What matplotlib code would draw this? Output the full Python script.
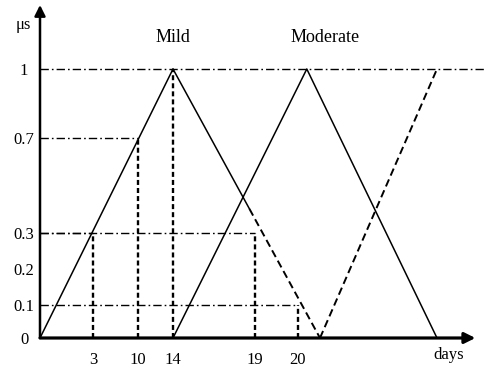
import numpy as np
import matplotlib
matplotlib.use("Agg")
import matplotlib.pyplot as plt

# ---------------- data ----------------
mild_days = [0, 14, 21]
mild_mu = [0, 1, 0]
moderate_days = [14, 20.4, 28]
moderate_mu = [0, 1, 0]
severe_days = [21, 28]
severe_mu = [0, 1]
guide_days = [3, 10, 14, 19, 20]          # dashed vertical guides / x tick positions
guide_mu = [0.3, 0.7, 1, 0.3, 0.1]        # membership reached at each guide
xtick_labels = ["3", "10", "14", "19", "20"]
ytick_values = [0, 0.1, 0.2, 0.3, 0.7, 1]
ytick_labels = ["0", "0.1", "0.2", "0.3", "0.7", "1"]
axis_end_days = 32
mild_solid_until = 0.48                   # falling edge of Mild turns dashed below this

# ---------------- layout (schematic, hand-drawn scales) ----------------
W, H, DPI = 485, 374, 100
XK_DAYS = [-4.5, 0, 3, 10, 14, 19, 20, 21, 28, 33]
XK_PX = [0, 40, 93, 138, 173, 255, 298, 320, 437, 485]
YK_MU = [-0.2, 0, 0.1, 0.2, 0.3, 0.7, 1, 1.25]
YK_PX = [0, 36, 69, 105, 141, 236, 305, 374]

plt.rcParams["font.family"] = ["Liberation Serif", "DejaVu Serif"]
plt.rcParams["font.size"] = 12
plt.rcParams["lines.scale_dashes"] = False

fig = plt.figure(figsize=(W / DPI, H / DPI), dpi=DPI)
ax = fig.add_axes([0, 0, 1, 1])
ax.set_xscale("function", functions=(lambda d: np.interp(d, XK_DAYS, XK_PX),
                                     lambda p: np.interp(p, XK_PX, XK_DAYS)))
ax.set_yscale("function", functions=(lambda m: np.interp(m, YK_MU, YK_PX),
                                     lambda p: np.interp(p, YK_PX, YK_MU)))
ax.set_xlim(XK_DAYS[0], XK_DAYS[-1])
ax.set_ylim(YK_MU[0], YK_MU[-1])

SOLID = dict(color="black", lw=1.1, solid_capstyle="round")
DASH_V = dict(color="black", lw=1.7, dashes=(3.6, 2.2))
DASH_M = dict(color="black", lw=1.4, dashes=(5.5, 3.0))
DASHDOT = dict(color="black", lw=1.0, dashes=(6.0, 2.2, 1.2, 2.2))

# horizontal dash-dot guides
for d, m in zip(guide_days, guide_mu):
    x_end = XK_DAYS[-1] if m == 1 else d
    ax.plot([0, x_end], [m, m], **DASHDOT)
# vertical dashed guides
for d, m in zip(guide_days, guide_mu):
    ax.plot([d, d], [0, m], **DASH_V)

# Mild: rising edge solid, falling edge solid then dashed
ax.plot(mild_days[:2], mild_mu[:2], **SOLID)
p0 = ax.transData.transform((mild_days[1], mild_mu[1]))
p1 = ax.transData.transform((mild_days[2], mild_mu[2]))
split = ax.transData.inverted().transform(p0 + (1 - mild_solid_until) * (p1 - p0))
ax.plot([mild_days[1], split[0]], [mild_mu[1], split[1]], **SOLID)
ax.plot([split[0], mild_days[2]], [split[1], mild_mu[2]], **DASH_M)

# Moderate: solid triangle
ax.plot(moderate_days, moderate_mu, **SOLID)
# Severe rising edge: dashed
ax.plot(severe_days, severe_mu, **DASH_M)

# axes with arrows
for s in ax.spines.values():
    s.set_visible(False)
ax.spines["bottom"].set_position(("data", 0))
ax.spines["left"].set_position(("data", 0))
ax.annotate("", xy=(axis_end_days, 0), xytext=(0, 0),
            arrowprops=dict(arrowstyle="-|>", lw=2.3, color="black",
                            mutation_scale=16, shrinkA=0, shrinkB=0))
ax.annotate("", xy=(0, 1.232), xytext=(0, 0),
            arrowprops=dict(arrowstyle="-|>", lw=1.8, color="black",
                            mutation_scale=16, shrinkA=0, shrinkB=0))

ax.set_xticks(guide_days, xtick_labels)
ax.set_yticks(ytick_values, ytick_labels)
ax.tick_params(axis="x", length=0, pad=10)
ax.tick_params(axis="y", length=0, pad=11.5)
for lbl in ax.get_yticklabels():
    lbl.set_horizontalalignment("center")
ax.minorticks_off()

ax.annotate("days", xy=(axis_end_days, 0), xytext=(-27, -17),
            textcoords="offset pixels", ha="center", va="center")
ax.annotate("μs", xy=(0, 1.16), xytext=(-17, 0),
            textcoords="offset pixels", ha="center", va="center", fontsize=12)
ax.annotate("Mild", xy=(mild_days[1], 1), xytext=(0, 32),
            textcoords="offset pixels", ha="center", va="center", fontsize=13)
ax.annotate("Moderate", xy=(moderate_days[1], 1), xytext=(18, 32),
            textcoords="offset pixels", ha="center", va="center", fontsize=13)

fig.savefig("out.png", dpi=DPI)
